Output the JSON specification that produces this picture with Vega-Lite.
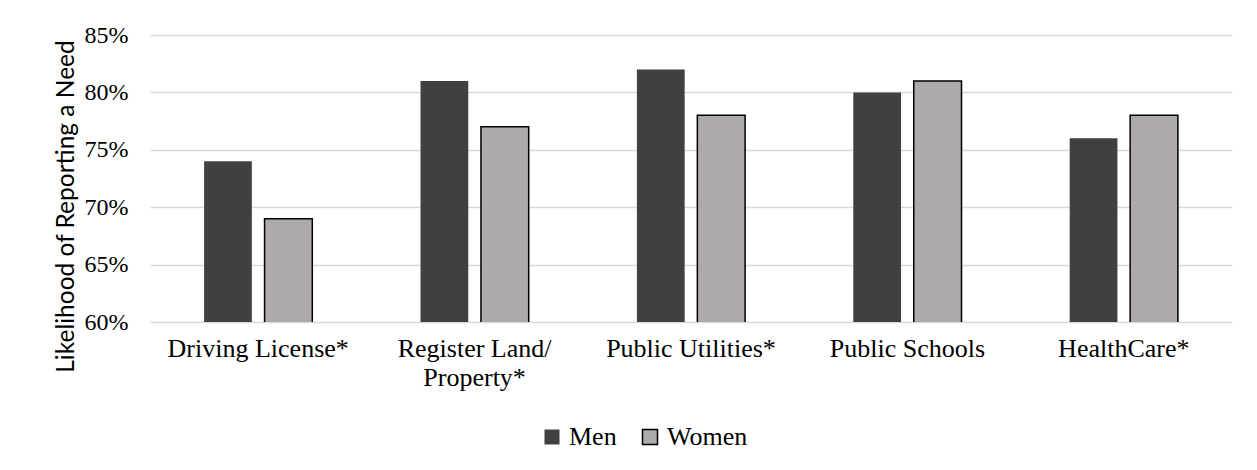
{
  "$schema": "https://vega.github.io/schema/vega-lite/v6.json",
  "width": 1082,
  "height": 287,
  "autosize": {"type": "none"},
  "padding": {"left": 150, "top": 35, "right": 25, "bottom": 148},
  "background": "white",
  "config": {
    "view": {"stroke": null},
    "font": "Liberation Serif",
    "legend": {
      "orient": "none",
      "legendX": 389,
      "legendY": 389,
      "direction": "horizontal",
      "title": null,
      "symbolType": "square",
      "symbolSize": 225,
      "symbolStrokeWidth": 1.5,
      "labelFont": "Liberation Serif",
      "labelFontSize": 26,
      "labelColor": "#000000",
      "labelOffset": 4,
      "columnPadding": 20
    }
  },
  "data": {
    "values": [
      {"service": "Driving License*", "gender": "Men", "value": 0.74},
      {"service": "Driving License*", "gender": "Women", "value": 0.69},
      {"service": "Register Land/ Property*", "gender": "Men", "value": 0.81},
      {"service": "Register Land/ Property*", "gender": "Women", "value": 0.77},
      {"service": "Public Utilities*", "gender": "Men", "value": 0.82},
      {"service": "Public Utilities*", "gender": "Women", "value": 0.78},
      {"service": "Public Schools", "gender": "Men", "value": 0.80},
      {"service": "Public Schools", "gender": "Women", "value": 0.81},
      {"service": "HealthCare*", "gender": "Men", "value": 0.76},
      {"service": "HealthCare*", "gender": "Women", "value": 0.78}
    ]
  },
  "mark": {"type": "bar", "strokeWidth": 1.5, "clip": true},
  "encoding": {
    "x": {
      "field": "service",
      "type": "nominal",
      "sort": null,
      "scale": {"paddingInner": 0.5, "paddingOuter": 0.25},
      "axis": {
        "title": null,
        "labelAngle": 0,
        "labelFont": "Liberation Serif",
        "labelFontSize": 26,
        "labelColor": "#000000",
        "labelPadding": 13,
        "labelLineHeight": 29,
        "labelLimit": 400,
        "labelOverlap": false,
        "ticks": false,
        "domain": false,
        "labelExpr": "datum.label == 'Register Land/ Property*' ? ['Register Land/', 'Property*'] : datum.label"
      }
    },
    "xOffset": {
      "field": "gender",
      "type": "nominal",
      "sort": ["Men", "Women"],
      "scale": {"paddingInner": 0.21, "paddingOuter": 0}
    },
    "y": {
      "field": "value",
      "type": "quantitative",
      "scale": {"domain": [0.6, 0.85], "zero": false},
      "axis": {
        "title": "Likelihood of Reporting a Need",
        "titleFont": "Lato",
        "titleFontSize": 24.5,
        "titleFontWeight": "normal",
        "titleColor": "#000000",
        "titleX": -77,
        "titleY": 171,
        "titleAngle": -90,
        "titleAlign": "center",
        "titleBaseline": "alphabetic",
        "format": ".0%",
        "values": [0.6, 0.65, 0.7, 0.75, 0.8, 0.85],
        "grid": true,
        "gridColor": "#D9D9D9",
        "gridWidth": 1.5,
        "domain": false,
        "ticks": false,
        "labelFont": "Liberation Serif",
        "labelFontSize": 24,
        "labelColor": "#000000",
        "labelPadding": 22
      }
    },
    "fill": {
      "field": "gender",
      "type": "nominal",
      "scale": {"domain": ["Men", "Women"], "range": ["#404040", "#AEAAAA"]},
      "legend": {"title": null}
    },
    "stroke": {
      "field": "gender",
      "type": "nominal",
      "scale": {"domain": ["Men", "Women"], "range": ["transparent", "#000000"]},
      "legend": {"title": null}
    }
  }
}
